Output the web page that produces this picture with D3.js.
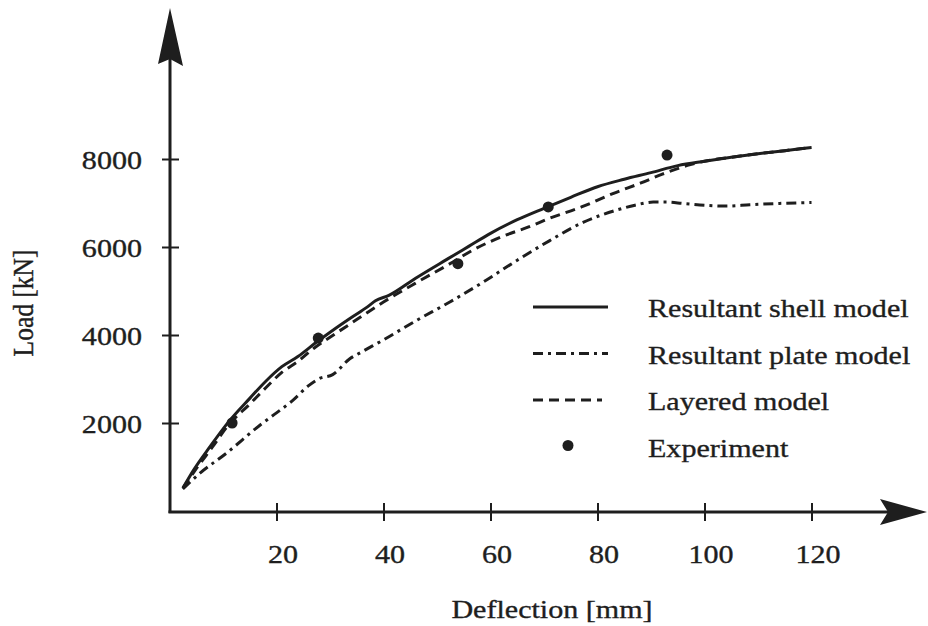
<!DOCTYPE html>
<html>
<head>
<meta charset="utf-8">
<script src="https://cdn.jsdelivr.net/npm/d3@7"></script>
<style>
  body { margin: 0; background: #fff; }
  text {
    font-family: "Liberation Serif", "Times New Roman", Times, "Nimbus Roman", serif;
    fill: #1e1e1e;
    stroke: #1e1e1e;
    stroke-width: 0.35px;
  }
</style>
</head>
<body>
<div id="chart"></div>
<script>
// Load-deflection data: [deflection mm, load kN]
const shellData = [
    [2.5, 520], [4.5, 930], [7.5, 1450], [11, 2020], [15, 2560], [18, 2950], [21, 3280],
    [24, 3510], [27.5, 3840], [31, 4150], [34, 4400], [37, 4640], [38.5, 4780], [41, 4900],
    [46, 5290], [52, 5730], [56, 6020], [60, 6310], [65, 6620], [70, 6880], [75, 7130],
    [80, 7370], [85, 7540], [90, 7690], [95, 7850], [100, 7950], [105, 8040], [110, 8120],
    [115, 8190], [120, 8260]
];
const plateData = [
    [2.5, 500], [5.7, 860], [10.7, 1320], [16.9, 1950], [20, 2230], [23.1, 2520], [26, 2850],
    [28, 3010], [30.5, 3100], [33.7, 3460], [36, 3620], [40, 3890], [46.3, 4340], [52.4, 4750],
    [58.6, 5200], [65, 5700], [71, 6140], [77.3, 6560], [83.6, 6840], [87, 6950], [90.4, 7020],
    [93, 7020], [96, 6990], [100, 6950], [104, 6930], [108.5, 6960], [114, 6990], [120, 7010]
];
const layeredData = [
    [2.5, 520], [5, 960], [8, 1450], [11, 1950], [15, 2430], [18, 2800], [21, 3150], [24, 3400],
    [27, 3700], [31, 4030], [35, 4350], [40, 4750], [46, 5180], [52, 5590], [57, 5950],
    [62, 6230], [67, 6450], [71, 6650], [77, 6910], [83, 7220], [88, 7450], [92, 7650],
    [97, 7860], [100, 7950], [105, 8040], [110, 8120], [115, 8190], [120, 8260]
];
const experimentData = [[11.7, 2000], [27.8, 3930], [53.9, 5620], [70.8, 6910], [93, 8090]];

const xTicks = [20, 40, 60, 80, 100, 120];
const yTicks = [2000, 4000, 6000, 8000];
const legendLabels = ["Resultant shell model", "Resultant plate model", "Layered model", "Experiment"];

const width = 928, height = 626;
const ink = "#1e1e1e";
const sx = 1.18; // the scanned figure is stretched horizontally
const fontSize = 25.5;

const svg = d3.select("#chart").append("svg")
    .attr("width", width)
    .attr("height", height);

const x = d3.scaleLinear().domain([0, 120]).range([169.5, 811.5]);
const y = d3.scaleLinear().domain([0, 8000]).range([511, 159]);

// axes lines with arrow heads
svg.append("line")
    .attr("x1", 170).attr("x2", 170).attr("y1", 513).attr("y2", 40)
    .attr("stroke", ink).attr("stroke-width", 3);
svg.append("line")
    .attr("x1", 168.5).attr("x2", 900).attr("y1", 512).attr("y2", 512)
    .attr("stroke", ink).attr("stroke-width", 3);
svg.append("path")
    .attr("d", "M170,8 L183,66 L170,59 L158,64 Z")
    .attr("fill", ink);
svg.append("path")
    .attr("d", "M927,512 L880,499 L888,512 L880,525 Z")
    .attr("fill", ink);

// x axis ticks
const xAxis = svg.append("g")
    .attr("transform", "translate(0,512)")
    .call(d3.axisBottom(x).tickValues(xTicks).tickFormat(d3.format("d")).tickSizeOuter(0).tickSize(9));
xAxis.select(".domain").remove();
xAxis.selectAll(".tick line")
    .attr("y1", -9).attr("y2", 9)
    .attr("stroke", ink).attr("stroke-width", 2);
xAxis.selectAll(".tick text")
    .attr("x", 6 / sx).attr("y", 51).attr("dy", null)
    .attr("transform", `scale(${sx},1)`)
    .style("font-size", fontSize + "px")
    .attr("fill", ink);

// y axis ticks
const yAxis = svg.append("g")
    .attr("transform", "translate(170,0)")
    .call(d3.axisLeft(y).tickValues(yTicks).tickFormat(d3.format("d")).tickSizeOuter(0).tickSize(9));
yAxis.select(".domain").remove();
yAxis.selectAll(".tick line")
    .attr("x1", -8).attr("x2", 9)
    .attr("stroke", ink).attr("stroke-width", 2);
yAxis.selectAll(".tick text")
    .attr("x", -28 / sx).attr("dy", "0.36em")
    .attr("transform", `scale(${sx},1)`)
    .style("font-size", fontSize + "px")
    .attr("fill", ink);

// axis titles
svg.append("text")
    .attr("transform", `translate(552,618) scale(${sx},1)`)
    .attr("text-anchor", "middle")
    .style("font-size", fontSize + "px")
    .text("Deflection [mm]");

svg.append("text")
    .attr("transform", `translate(33,303) rotate(-90) scale(1,${sx})`)
    .attr("text-anchor", "middle")
    .style("font-size", fontSize + "px")
    .text("Load [kN]");

// curves
const line = d3.line()
    .x(d => x(d[0]))
    .y(d => y(d[1]))
    .curve(d3.curveMonotoneX);

const plateDash = "10,5,3,5";
const layeredDash = "10,6";

svg.append("path")
    .datum(plateData)
    .attr("d", line)
    .attr("fill", "none")
    .attr("stroke", ink)
    .attr("stroke-width", 3)
    .attr("stroke-dasharray", plateDash);

svg.append("path")
    .datum(layeredData)
    .attr("d", line)
    .attr("fill", "none")
    .attr("stroke", ink)
    .attr("stroke-width", 3)
    .attr("stroke-dasharray", layeredDash);

svg.append("path")
    .datum(shellData)
    .attr("d", line)
    .attr("fill", "none")
    .attr("stroke", ink)
    .attr("stroke-width", 3);

svg.selectAll(".exp")
    .data(experimentData)
    .enter().append("circle")
    .attr("class", "exp")
    .attr("cx", d => x(d[0]))
    .attr("cy", d => y(d[1]))
    .attr("r", 5.5)
    .attr("fill", ink);

// legend
const legend = svg.append("g");
const legendStyles = [null, plateDash, layeredDash];

legendLabels.forEach((label, i) => {
    const rowY = 307 + i * 46.5;
    if (i < 3) {
        legend.append("line")
            .attr("x1", 533).attr("x2", i === 2 ? 602 : 608)
            .attr("y1", rowY).attr("y2", rowY)
            .attr("stroke", ink)
            .attr("stroke-width", 3)
            .attr("stroke-dasharray", legendStyles[i]);
    } else {
        legend.append("circle")
            .attr("cx", 568).attr("cy", rowY - 1)
            .attr("r", 5.5)
            .attr("fill", ink);
    }
    legend.append("text")
        .attr("transform", `translate(648,${rowY + 10}) scale(${sx},1)`)
        .style("font-size", fontSize + "px")
        .text(label);
});
</script>
</body>
</html>
